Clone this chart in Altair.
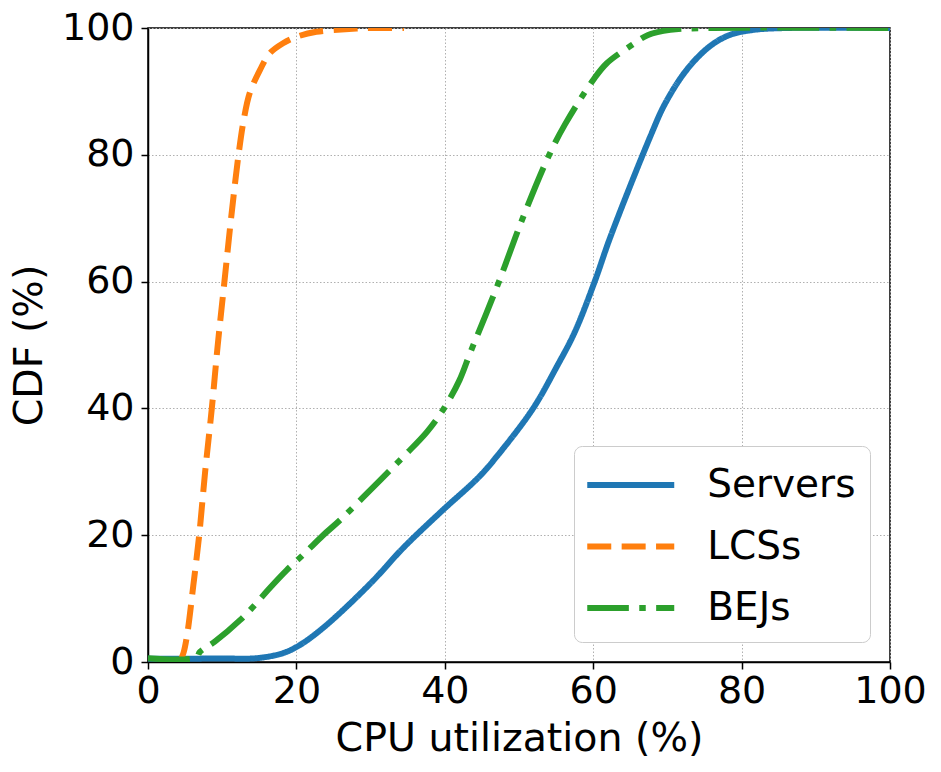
import altair as alt
import pandas as pd

# ---- data ----
servers_x = [0, 10, 14.6, 18.2, 20.5, 23.2, 26.3, 30.4, 34.4, 39.4, 44.7, 47.2, 51.9, 55.1, 57.5, 60.2, 62.3, 67.7, 69.7, 72.6, 75.7, 78.4, 81.6, 86, 100]
servers_y = [0.5, 0.55, 0.6, 1.4, 2.7, 5.0, 8.2, 12.9, 18.0, 23.6, 29.3, 32.7, 40.0, 46.6, 52.0, 60.0, 67.0, 82.9, 88.1, 93.4, 97.1, 98.9, 99.7, 100, 100]

lcss_x = [4.3, 4.8, 5.3, 6.1, 6.9, 7.7, 8.6, 9.4, 10.3, 11.2, 12.2, 12.9, 13.7, 15.1, 16.4, 18.2, 20.0, 22.7, 26.6, 30, 34.5]
lcss_y = [0, 1.5, 4.5, 12, 20, 30, 40, 50, 60, 70, 80, 85.5, 89.7, 93.4, 96, 97.6, 98.6, 99.4, 99.8, 100, 100]

bejs_x = [0, 6.5, 7.0, 9.0, 12.4, 14.4, 16.2, 18.7, 20.9, 23.6, 25.9, 31.3, 34.6, 37.6, 40.0, 42.0, 43.4, 45.6, 47.4, 50.4, 54.0, 56.2, 60.0, 61.8, 65.2, 67.4, 70.4, 76, 100]
bejs_y = [0.6, 0.7, 1.6, 3.2, 6.6, 9.0, 11.4, 14.5, 16.9, 20.0, 22.4, 28.7, 32.6, 36.3, 40.2, 44.5, 48.7, 55.0, 60.3, 69.7, 79.8, 84.8, 91.8, 94.4, 97.3, 98.9, 99.7, 100, 100]

series = ["Servers", "LCSs", "BEJs"]
colors = ["#1f77b4", "#ff7f0e", "#2ca02c"]
dashes = [[1, 0], [24, 10.4], [41.6, 10.4, 6.5, 10.4]]
ticks = [0, 20, 40, 60, 80, 100]

rows = []
for name, xs, ys in [("Servers", servers_x, servers_y), ("LCSs", lcss_x, lcss_y), ("BEJs", bejs_x, bejs_y)]:
    for i, (x, y) in enumerate(zip(xs, ys)):
        rows.append({"series": name, "x": x, "y": y, "i": i})
df = pd.DataFrame(rows)

FONT = "DejaVu Sans"

chart = alt.Chart(df).mark_line(
    strokeWidth=6, interpolate="catmull-rom", clip=True, strokeCap="butt"
).encode(
    x=alt.X("x:Q", title="CPU utilization (%)",
            scale=alt.Scale(domain=[0, 100], nice=False),
            axis=alt.Axis(values=ticks, grid=True)),
    y=alt.Y("y:Q", title="CDF (%)",
            scale=alt.Scale(domain=[0, 100], nice=False),
            axis=alt.Axis(values=ticks, grid=True)),
    color=alt.Color("series:N", scale=alt.Scale(domain=series, range=colors),
                    sort=series, title=None),
    strokeDash=alt.StrokeDash("series:N", scale=alt.Scale(domain=series, range=dashes),
                              sort=series, title=None),
    order=alt.Order("i:Q"),
).properties(
    width=742, height=634,
    autosize=alt.AutoSizeParams(type="none"),
    padding={"left": 140, "top": 20, "right": 40, "bottom": 100},
).configure_view(
    stroke="black", strokeWidth=1.5
).configure_axis(
    labelFont=FONT, titleFont=FONT, labelFontSize=38, titleFontSize=39.5,
    labelColor="black", titleColor="black", titleFontWeight="normal",
    tickColor="black", tickSize=7, tickWidth=1.5,
    domainColor="black", domainWidth=1.5,
    gridColor="#b0b0b0", gridDash=[1.5, 2], gridWidth=1,
    labelFlush=False,
).configure_axisX(
    labelPadding=3, titlePadding=9,
).configure_axisY(
    labelPadding=7, titlePadding=12,
).configure_legend(
    orient="bottom-right", offset=20,
    strokeColor="#cccccc", fillColor="white", padding=14, cornerRadius=8,
    labelFont=FONT, labelFontSize=39, labelColor="black",
    symbolType="M-2,0H2", symbolSize=1892, symbolStrokeWidth=6,
    symbolOffset=17.75, labelOffset=51.5, rowPadding=16.5,
)

chart.save("out.html", embed_options={"renderer": "svg", "actions": False})
